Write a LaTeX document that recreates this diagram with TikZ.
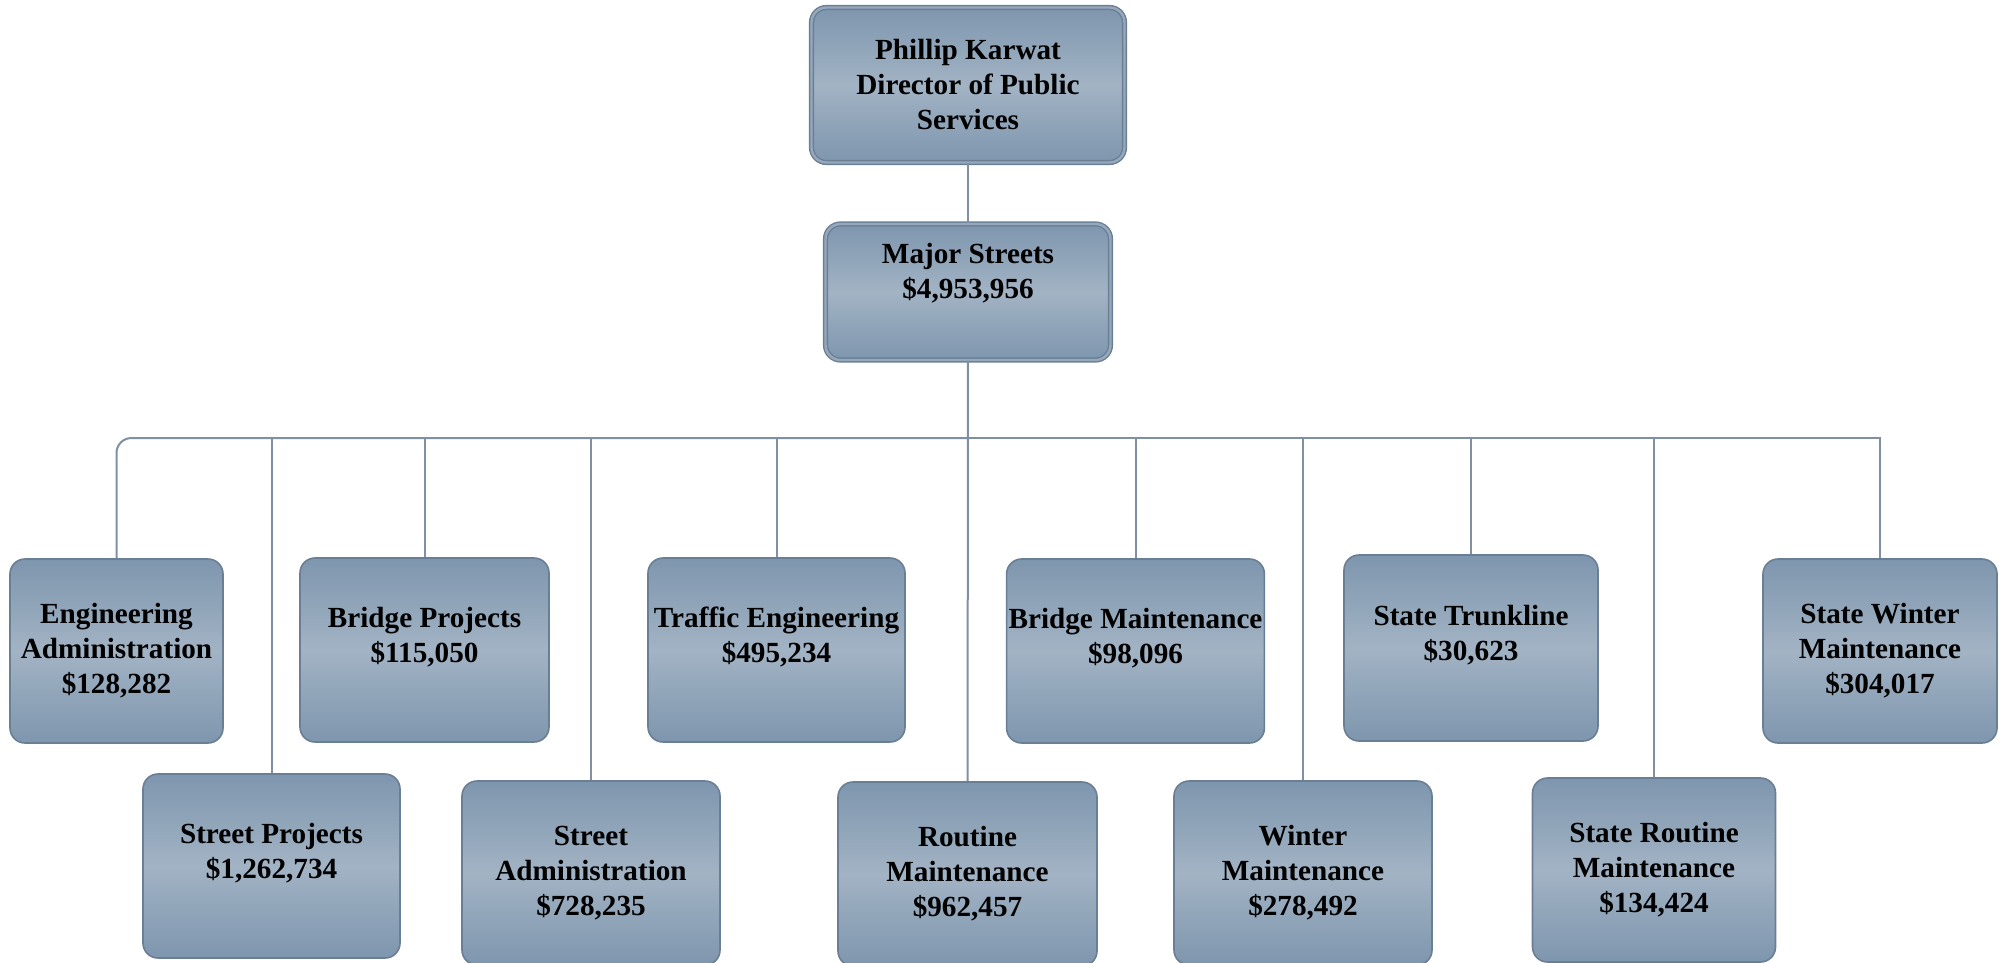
\documentclass[tikz,border=0pt]{standalone}
\usepackage{fontspec}
\setmainfont{Liberation Serif}
\definecolor{boxtop}{RGB}{126,150,174}
\definecolor{boxmid}{RGB}{162,179,196}
\definecolor{boxedge}{RGB}{106,126,148}
\definecolor{boxgap}{RGB}{150,168,188}
\definecolor{linkline}{RGB}{128,144,162}
\begin{document}
\begin{tikzpicture}[x=1pt,y=-1pt,
  box/.style={rounded corners=15pt, draw=boxedge, line width=1.6pt,
    top color=boxtop, bottom color=boxtop, middle color=boxmid,
    align=center, inner sep=2pt, minimum height=184pt,
    font=\bfseries\fontsize{29.2}{35}\selectfont},
  headbox/.style={box, line width=1.4pt, double=boxgap, double distance=2.4pt},
  link/.style={draw=linkline, line width=2pt}]
\useasboundingbox (0,0) rectangle (2004,963);
% director and fund
\node[headbox, minimum width=313pt, minimum height=155pt] (pk) at (968,85)
  {Phillip Karwat\\Director of Public\\Services};
\node[headbox, minimum width=285pt, minimum height=136pt] (ms) at (968,292)
  {Major Streets\\\$4,953,956\\[8pt]\mbox{}};
\coordinate (bus) at (968,438);
% upper row
\node[box, minimum width=213pt] (ea) at (116.5,651) {Engineering\\Administration\\\$128,282};
\node[box, minimum width=249pt] (bp) at (424.5,650) {Bridge Projects\\\$115,050\\[-5pt]\mbox{}};
\node[box, minimum width=257pt] (te) at (776.5,650) {Traffic Engineering\\\$495,234\\[-5pt]\mbox{}};
\node[box, minimum width=257pt] (bm) at (1135.5,651) {Bridge Maintenance\\\$98,096\\[-5pt]\mbox{}};
\node[box, minimum width=254pt, minimum height=186pt] (st) at (1471,648) {State Trunkline\\\$30,623\\[-5pt]\mbox{}};
\node[box, minimum width=234pt] (sw) at (1880,651) {State Winter\\Maintenance\\\$304,017};
% lower row
\node[box, minimum width=257pt] (sp) at (271.5,866) {Street Projects\\\$1,262,734\\[-5pt]\mbox{}};
\node[box, minimum width=258pt] (sa) at (591,873) {Street\\Administration\\\$728,235};
\node[box, minimum width=259pt] (rm) at (967.5,874) {Routine\\Maintenance\\\$962,457};
\node[box, minimum width=258pt] (wm) at (1303,873) {Winter\\Maintenance\\\$278,492};
\node[box, minimum width=243pt] (sr) at (1654,870) {State Routine\\Maintenance\\\$134,424};
% connectors
\draw[link] (pk) -- (ms);
\draw[link] (ms) -- (rm);
\draw[link, rounded corners=15pt] (bus) -| (ea.north);
\foreach \n in {sp,bp,sa,te,bm,wm,st,sr,sw}
  \draw[link] (bus) -| (\n.north);
\end{tikzpicture}
\end{document}
